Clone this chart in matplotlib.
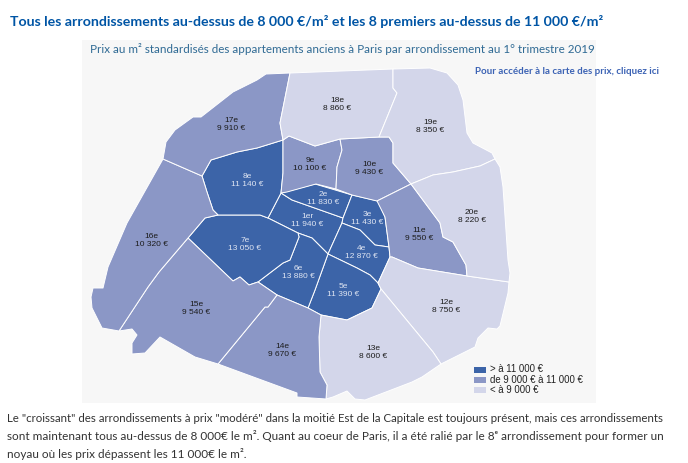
"""Prix au m2 par arrondissement a Paris, T1 2019 (carte choroplethe)."""
import matplotlib
matplotlib.use("Agg")
import matplotlib.pyplot as plt
from matplotlib.patches import Polygon, Rectangle

TITLE = "Tous les arrondissements au-dessus de 8 000 €/m² et les 8 premiers au-dessus de 11 000 €/m²"
SUBTITLE = "Prix au m² standardisés des appartements anciens à Paris par arrondissement au 1° trimestre 2019"
LINK = "Pour accéder à la carte des prix, cliquez ici"
BODY = [
    "Le \"croissant\" des arrondissements à prix \"modéré\" dans la moitié Est de la Capitale est toujours présent, mais ces arrondissements",
    "sont maintenant tous au-dessus de 8 000€ le m². Quant au coeur de Paris, il a été ralié par le 8ᵉ arrondissement pour former un",
    "noyau où les prix dépassent les 11 000€ le m².",
]
body_sizes = [8.3, 8.5, 8.5]

names = ["1er", "2e", "3e", "4e", "5e", "6e", "7e", "8e", "9e", "10e",
         "11e", "12e", "13e", "14e", "15e", "16e", "17e", "18e", "19e", "20e"]
prices = [11940, 11830, 11430, 12870, 11390, 13880, 13050, 11140, 10100, 9430,
          9550, 8750, 8600, 9670, 9540, 10320, 9910, 8860, 8350, 8220]
legend_labels = ["> à 11 000 €", "de 9 000 € à 11 000 €", "< à 9 000 €"]
class_colors = ["#3c64a8", "#8b97c6", "#d3d6ea"]

# contours des arrondissements, en pixels de l'image
outlines = {
    "1er": [(268, 218), (281, 193), (292, 200), (343, 218), (342, 223), (328, 254), (312, 238), (298, 233)],
    "2e": [(281, 193), (315, 184), (352, 195), (343, 218), (292, 200)],
    "3e": [(352, 195), (378, 201), (385, 217), (389, 247), (375, 245), (360, 230), (342, 223), (343, 218)],
    "4e": [(342, 223), (360, 230), (375, 245), (389, 247), (390, 257), (378, 283), (370, 275), (357, 268), (328, 254)],
    "5e": [(378, 283), (381, 289), (372, 308), (347, 320), (321, 315), (308, 308), (315, 290), (328, 254),
           (357, 268), (370, 275)],
    "6e": [(298, 233), (312, 238), (328, 254), (315, 290), (308, 308), (277, 295), (258, 282), (283, 263),
           (290, 260), (299, 237)],
    "7e": [(218, 215), (260, 215), (268, 218), (298, 233), (299, 237), (290, 260), (283, 263), (258, 282),
           (249, 285), (240, 277), (233, 281), (188, 238), (205, 218)],
    "8e": [(283, 140), (283, 173), (281, 193), (268, 218), (260, 215), (218, 215), (213, 210), (207, 192),
           (202, 176), (211, 160), (237, 152), (257, 148)],
    "9e": [(283, 140), (289, 136), (315, 146), (340, 139), (342, 150), (337, 167), (336, 189), (316, 184),
           (287, 192), (281, 193), (283, 173)],
    "10e": [(340, 139), (379, 137), (389, 137), (393, 143), (393, 163), (411, 184), (377, 201), (352, 195),
            (336, 189), (337, 167), (342, 150)],
    "11e": [(411, 184), (440, 223), (443, 237), (453, 242), (466, 265), (467, 276), (418, 268), (392, 257),
            (390, 257), (389, 247), (385, 217), (377, 201)],
    "12e": [(467, 276), (509, 282), (508, 293), (500, 326), (497, 329), (488, 328), (478, 338), (475, 347),
            (441, 364), (433, 352), (381, 289), (378, 283), (390, 257), (392, 257), (418, 268)],
    "13e": [(381, 289), (433, 352), (441, 364), (422, 377), (412, 382), (365, 400), (355, 399), (347, 391),
            (333, 397), (326, 399), (327, 385), (320, 372), (319, 337), (321, 315), (347, 320), (372, 308)],
    "14e": [(277, 295), (308, 308), (321, 315), (319, 337), (320, 372), (327, 385), (326, 399), (297, 397),
            (297, 393), (218, 364), (265, 307), (268, 307)],
    "15e": [(188, 238), (233, 281), (240, 277), (249, 285), (258, 282), (277, 295), (268, 307), (265, 307),
            (218, 364), (195, 357), (160, 337), (145, 353), (132, 354), (132, 343), (137, 335), (132, 329),
            (119, 331), (148, 287), (159, 272)],
    "16e": [(163, 159), (202, 176), (207, 192), (213, 210), (218, 215), (205, 218), (188, 238), (159, 272),
            (148, 287), (119, 331), (102, 328), (92, 308), (91, 297), (93, 288), (103, 288), (108, 267),
            (127, 223)],
    "17e": [(163, 159), (166, 142), (175, 130), (193, 117), (201, 117), (233, 92), (257, 80), (266, 74),
            (290, 73), (280, 123), (283, 140), (257, 148), (237, 152), (211, 160), (202, 176)],
    "18e": [(290, 73), (393, 69), (393, 88), (397, 93), (379, 137), (340, 139), (315, 146), (289, 136),
            (283, 140), (280, 123)],
    "19e": [(393, 69), (430, 68), (447, 73), (458, 85), (463, 100), (467, 133), (473, 143), (492, 153),
            (495, 159), (480, 166), (453, 172), (433, 175), (411, 184), (393, 163), (393, 143), (389, 137),
            (379, 137), (397, 93), (393, 88)],
    "20e": [(495, 159), (500, 167), (503, 187), (508, 260), (510, 273), (509, 282), (467, 276), (466, 265),
            (453, 242), (443, 237), (440, 223), (411, 184), (433, 175), (453, 172), (480, 166)],
}
# centre du libelle de chaque arrondissement
label_pos = {
    "1er": (307, 220), "2e": (323, 198), "3e": (367, 219), "4e": (361, 252), "5e": (343, 291),
    "6e": (298, 273), "7e": (245, 245), "8e": (247, 181), "9e": (310, 164), "10e": (369, 168),
    "11e": (419, 234), "12e": (446, 306), "13e": (373, 353), "14e": (282, 350), "15e": (196, 308),
    "16e": (151, 241), "17e": (231, 124), "18e": (337, 104), "19e": (430, 126), "20e": (472, 217),
}


def price_class(p):
    if p > 11000:
        return 0
    if p >= 9000:
        return 1
    return 2


def fmt_price(p):
    return f"{p:,} €".replace(",", " ")


fig = plt.figure(figsize=(6.88, 4.63), dpi=100)
ax = fig.add_axes([0, 0, 1, 1])
ax.set_xlim(0, 688)
ax.set_ylim(463, 0)
ax.axis("off")

ax.add_patch(Rectangle((82, 40), 514, 363, fc="#f7f7f7", ec="none"))

for name, price in zip(names, prices):
    k = price_class(price)
    ax.add_patch(Polygon(outlines[name], closed=True, fc=class_colors[k], ec="white", lw=0.7, joinstyle="round"))
    x, y = label_pos[name]
    col = "#dfe5f2" if k == 0 else "#1c1c1c"
    ax.text(x, y, f"{name}\n{fmt_price(price)}", ha="center", va="center", fontsize=6,
            family="Liberation Sans", color=col, linespacing=1.2)

for i, (lab, col) in enumerate(zip(legend_labels, class_colors)):
    y = 366.5 + i * 10.3
    ax.add_patch(Rectangle((474, y), 12, 6, fc=col, ec="none"))
    ax.text(490, y + 3, lab, ha="left", va="center", fontsize=6.9, family="Liberation Sans", color="#222222")

ax.text(10, 21, TITLE, ha="left", va="center", fontsize=10.2, fontweight="bold", family="Lato", color="#0055a5")
ax.text(90, 49, SUBTITLE, ha="left", va="center", fontsize=8.35, family="Lato", color="#2f6a94")
ax.text(475, 72, LINK, ha="left", va="center", fontsize=7.05, fontweight="bold", family="Lato", color="#3b62b4")

for y, line, size in zip([418, 436, 454], BODY, body_sizes):
    ax.text(7, y, line, ha="left", va="center", fontsize=size, family=["Lato", "DejaVu Sans"], color="#333333")

fig.savefig("out.png", dpi=100)
